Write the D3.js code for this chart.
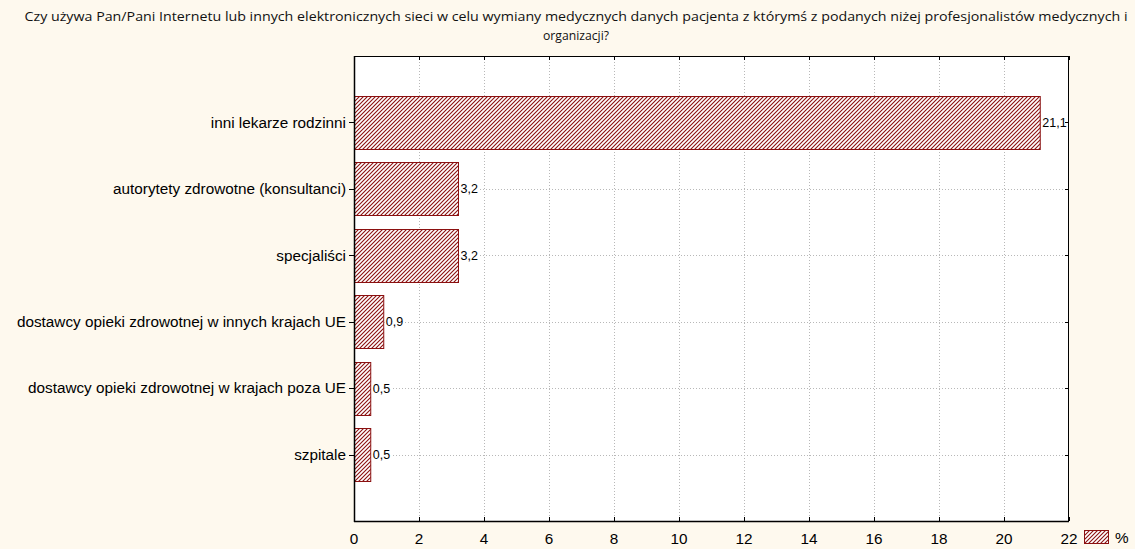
<!DOCTYPE html>
<html><head><meta charset="utf-8">
<script src="https://cdn.jsdelivr.net/npm/d3@7"></script>
<style>body{margin:0;background:#fef9ee;} svg{display:block;}</style>
</head><body>
<svg id="c" width="1135" height="549"></svg>
<script>
const categories = ["inni lekarze rodzinni","autorytety zdrowotne (konsultanci)","specjaliści","dostawcy opieki zdrowotnej w innych krajach UE","dostawcy opieki zdrowotnej w krajach poza UE","szpitale"];
const values = [21.1, 3.2, 3.2, 0.9, 0.5, 0.5];
const valueLabels = ["21,1","3,2","3,2","0,9","0,5","0,5"];
const xTicks = [0,2,4,6,8,10,12,14,16,18,20,22];
const titleLines = ["Czy używa Pan/Pani Internetu lub innych elektronicznych sieci w celu wymiany medycznych danych pacjenta z którymś z podanych niżej profesjonalistów medycznych i","organizacji?"];
const legendLabel = "%";

const svg = d3.select("#c");
const L = 354, R = 1069, T = 56, B = 521;
const x = d3.scaleLinear().domain([0,22]).range([L,R]);
const y = d3.scaleLinear().domain([0, categories.length+1]).range([T,B]);
const bh = (y(1)-y(0))*0.8;
const red = "#8b1010";

const defs = svg.append("defs");
const pat = defs.append("pattern").attr("id","hatch").attr("patternUnits","userSpaceOnUse")
  .attr("width",4).attr("height",4);
pat.append("rect").attr("width",4).attr("height",4).attr("fill","#fff");
pat.append("path").attr("d","M-1,1 l2,-2 M0,4 l4,-4 M3,5 l2,-2").attr("stroke",red).attr("stroke-width",1.1);

// title
const titleW = [1103, 66];
svg.append("g").selectAll("text").data(titleLines).join("text")
  .attr("x", 576).attr("y",(d,i)=>21+i*19).attr("text-anchor","middle")
  .attr("font-family","Open Sans, Noto Sans, sans-serif").attr("font-size",12.5).attr("fill","#111")
  .attr("textLength",(d,i)=>titleW[i]).attr("lengthAdjust","spacingAndGlyphs")
  .text(d=>d);

// plot bg
svg.append("rect").attr("x",L).attr("y",T).attr("width",R-L).attr("height",B-T).attr("fill","#fff");

// gridlines
const grid = svg.append("g").attr("stroke","#b8b8b8").attr("stroke-dasharray","1,2").attr("stroke-width",1);
grid.selectAll("line.v").data(xTicks.slice(1,-1)).join("line")
  .attr("x1",d=>Math.round(x(d))+0.5).attr("x2",d=>Math.round(x(d))+0.5).attr("y1",T).attr("y2",B);
grid.selectAll("line.h").data(categories).join("line")
  .attr("x1",L).attr("x2",R).attr("y1",(d,i)=>Math.round(y(i+1))+0.5).attr("y2",(d,i)=>Math.round(y(i+1))+0.5);

// bars
svg.append("g").selectAll("rect").data(values).join("rect")
  .attr("x",L+0.5).attr("y",(d,i)=>Math.round(y(i+1)-bh/2)+0.5)
  .attr("width",d=>x(d)-L).attr("height",Math.round(bh))
  .attr("fill","url(#hatch)").attr("stroke",red).attr("stroke-width",1);

// value labels
const vl = svg.append("g");
values.forEach((v,i)=>{
  const tx = x(v)+2.5, ty = y(i+1);
  const t = vl.append("text").attr("x",tx).attr("y",ty).attr("dy","0.36em")
    .attr("font-family","Liberation Sans, Arial, sans-serif").attr("font-size",12.5).attr("fill","#000").text(valueLabels[i]);
  const bb = t.node().getBBox();
  vl.insert("rect","text").attr("x",bb.x-1).attr("y",ty-6).attr("width",bb.width+2).attr("height",12).attr("fill","#fff");
});

// frame
svg.append("rect").attr("x",L+0.5).attr("y",T+0.5).attr("width",R-L-1).attr("height",B-T).attr("fill","none").attr("stroke","#000").attr("stroke-width",1);
svg.append("line").attr("x1",L).attr("x2",R).attr("y1",B+0.5).attr("y2",B+0.5).attr("stroke","#000").attr("stroke-width",1.5);
svg.append("line").attr("x1",L+0.5).attr("x2",L+0.5).attr("y1",T).attr("y2",B+1).attr("stroke","#000").attr("stroke-width",1.5);

// ticks
const tk = svg.append("g").attr("stroke","#000").attr("stroke-width",1);
tk.selectAll("line.b").data(xTicks).join("line")
  .attr("x1",d=>Math.round(x(d))+0.5).attr("x2",d=>Math.round(x(d))+0.5).attr("y1",B).attr("y2",B-4);
tk.selectAll("line.t").data(xTicks).join("line")
  .attr("x1",d=>Math.round(x(d))+0.5).attr("x2",d=>Math.round(x(d))+0.5).attr("y1",T).attr("y2",T+4);
tk.selectAll("line.l").data(categories).join("line")
  .attr("x1",L-5).attr("x2",L).attr("y1",(d,i)=>Math.round(y(i+1))+0.5).attr("y2",(d,i)=>Math.round(y(i+1))+0.5);
tk.selectAll("line.r").data(categories).join("line")
  .attr("x1",R-4).attr("x2",R).attr("y1",(d,i)=>Math.round(y(i+1))+0.5).attr("y2",(d,i)=>Math.round(y(i+1))+0.5);

// x tick labels
svg.append("g").selectAll("text").data(xTicks).join("text")
  .attr("x",d=>x(d)).attr("y",B+23).attr("text-anchor","middle")
  .attr("font-family","Liberation Sans, Arial, sans-serif").attr("font-size",15.3).attr("fill","#000").text(d=>d);

// category labels
svg.append("g").selectAll("text").data(categories).join("text")
  .attr("x",L-8).attr("y",(d,i)=>y(i+1)).attr("dy","0.35em").attr("text-anchor","end")
  .attr("font-family","Liberation Sans, Arial, sans-serif").attr("font-size",15.3).attr("fill","#000").text(d=>d);

// legend
svg.append("rect").attr("x",1084.5).attr("y",530.5).attr("width",24).attr("height",13)
  .attr("fill","url(#hatch)").attr("stroke",red).attr("stroke-width",1);
svg.append("text").attr("x",1115).attr("y",543).attr("font-family","Liberation Sans, Arial, sans-serif")
  .attr("font-size",15.3).attr("fill","#000").text(legendLabel);
</script>
</body></html>
